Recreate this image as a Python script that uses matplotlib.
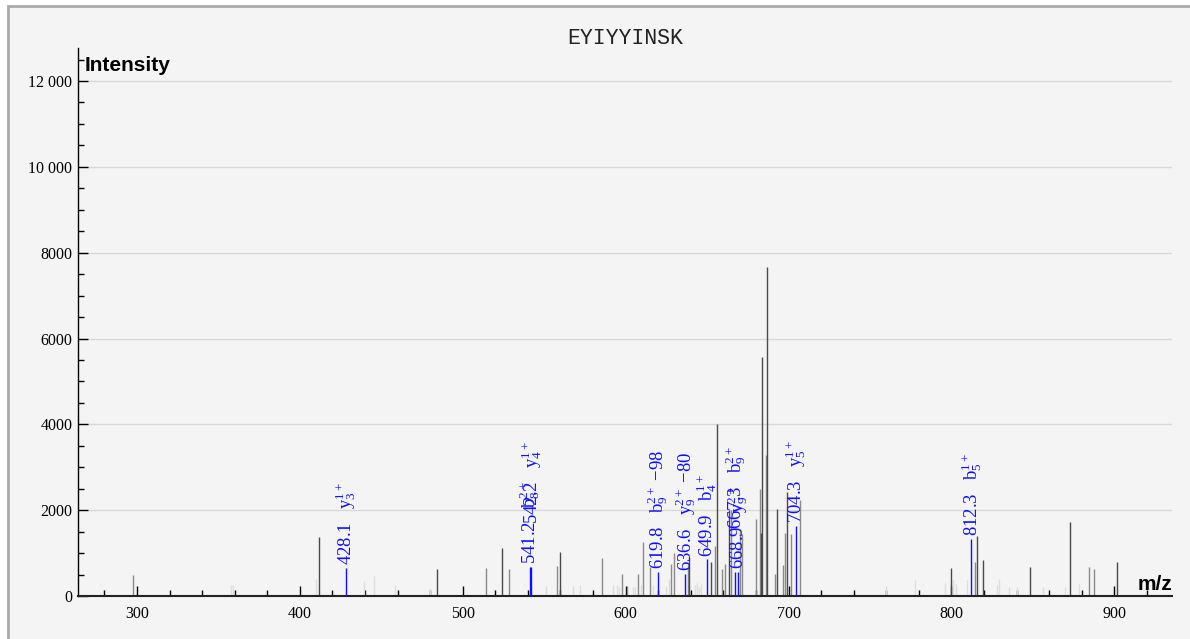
import matplotlib
matplotlib.use("Agg")
import matplotlib.pyplot as plt
from matplotlib.patches import Rectangle
from matplotlib.ticker import MultipleLocator, FuncFormatter

plt.rcParams['mathtext.fontset'] = 'custom'
plt.rcParams['mathtext.rm'] = 'Liberation Serif'
plt.rcParams['mathtext.it'] = 'Liberation Serif'

title = "EYIYYINSK"

# unmatched peaks: m/z, intensity, shade (d = dark, m = mid, l = faint)
peak_mz = [297.5, 357.5, 359.0, 410.2, 411.5, 439.5, 445.3, 458.3, 480.0, 484.2,
           514.1, 524.1, 528.1, 550.9, 557.9, 559.9, 567.6, 571.8, 585.7, 592.5,
           594.7, 596.0, 598.0, 601.0, 604.5, 606.0, 607.6, 609.6, 610.9, 615.1,
           616.8, 625.0, 626.4, 628.0, 629.9, 638.2, 639.1, 642.5, 644.0, 645.2,
           646.4, 652.4, 654.8, 656.1, 659.2, 660.9, 663.3, 664.6, 670.5, 671.3,
           679.8, 682.4, 682.8, 683.8, 685.9, 686.9, 691.8, 692.8, 696.5, 697.7,
           699.2, 701.8, 706.9, 760.0, 777.7, 796.1, 799.6, 801.0, 802.6, 809.6,
           814.5, 815.8, 819.6, 828.2, 829.4, 835.6, 840.5, 848.5, 856.4, 870.0,
           872.6, 878.5, 884.5, 887.7, 901.4]
peak_int = [500, 250, 250, 390, 1375, 360, 470, 250, 190, 620,
            645, 1130, 630, 230, 707, 1025, 230, 260, 880, 250,
            256, 200, 513, 230, 200, 220, 513, 256, 1250, 683,
            260, 230, 400, 746, 995, 746, 917, 250, 300, 220,
            280, 785, 1170, 4010, 620, 750, 2000, 2000, 1550, 1450,
            1790, 2490, 1475, 5580, 3290, 7660, 513, 2035, 720, 1460,
            2420, 1450, 2240, 240, 370, 300, 645, 366, 275, 366,
            785, 1400, 830, 250, 400, 210, 210, 684, 210, 210,
            1717, 290, 684, 622, 785]
peak_shade = ['m', 'l', 'l', 'l', 'd', 'l', 'l', 'l', 'l', 'd',
              'm', 'd', 'm', 'l', 'm', 'd', 'l', 'l', 'm', 'l',
              'l', 'l', 'm', 'm', 'l', 'l', 'm', 'l', 'm', 'm',
              'l', 'l', 'l', 'm', 'm', 'm', 'd', 'l', 'l', 'l',
              'l', 'd', 'm', 'd', 'm', 'm', 'd', 'm', 'm', 'm',
              'm', 'm', 'd', 'd', 'm', 'd', 'm', 'd', 'm', 'm',
              'd', 'm', 'm', 'l', 'l', 'l', 'd', 'l', 'l', 'l',
              'm', 'd', 'd', 'l', 'l', 'l', 'l', 'd', 'l', 'l',
              'd', 'l', 'm', 'm', 'd']

# annotated fragment peaks
ion_mz = [428.1, 541.2, 542.2, 619.8, 636.6, 649.9, 667.3, 668.9, 704.3, 812.3]
ion_int = [660, 680, 680, 567, 513, 855, 560, 560, 1640, 1328]
ion_value = ["428.1", "541.2", "542.2", "619.8", "636.6", "649.9", "667.3", "668.9", "704.3", "812.3"]
ion_name = [r"y$_3^{1+}$", r"b$_8^{2+}$", r"y$_4^{1+}$", r"b$_9^{2+}$ $-$98", r"y$_9^{2+}$ $-$80",
            r"b$_4^{1+}$", r"b$_9^{2+}$", r"y$_9^{2+}$", r"y$_5^{1+}$", r"b$_5^{1+}$"]
ion_stacked = [False, False, True, False, False, False, True, False, False, False]

shade_color = {'d': '#4a4a4a', 'm': '#8a8a8a', 'l': '#dedede'}

W, H = 1190, 639
fig = plt.figure(figsize=(W / 100, H / 100), dpi=100, facecolor='white')
fig.add_artist(Rectangle((8 / W, -0.2), 1.2, 1.2 - 6 / H, transform=fig.transFigure,
                         facecolor='#f4f4f4', edgecolor='#aaaaaa', lw=2, zorder=-10))

ax = fig.add_axes([78 / W, 43 / H, (1172 - 78) / W, (596 - 48) / H])
ax.set_facecolor('none')
ax.set_xlim(263.8, 935.4)
ax.set_ylim(0, 12770)

# peaks, faint ones first
for shade in ['l', 'm', 'd']:
    xs = [m for m, s in zip(peak_mz, peak_shade) if s == shade]
    ys = [v for v, s in zip(peak_int, peak_shade) if s == shade]
    ax.vlines(xs, 0, ys, color=shade_color[shade], lw=1.0, zorder=2)

ax.vlines(ion_mz, 0, ion_int, color='#1010ff', lw=1.0, zorder=3)
for m, v, val, name, st in zip(ion_mz, ion_int, ion_value, ion_name, ion_stacked):
    lift = 31 if st else 2
    ax.annotate(val + "   " + name, (m, v), xytext=(0, lift), textcoords='offset points',
                rotation=90, ha='center', va='bottom', color='#1010ff',
                fontsize=13.5, family='Liberation Serif', zorder=4)

# axes styling
for side in ['top', 'right']:
    ax.spines[side].set_visible(False)
ax.spines['left'].set_linewidth(1.0)
ax.spines['bottom'].set_linewidth(1.5)
ax.spines['bottom'].set_color('#222222')

ax.xaxis.set_major_locator(MultipleLocator(100))
ax.xaxis.set_minor_locator(MultipleLocator(20))
ax.yaxis.set_major_locator(MultipleLocator(2000))
ax.yaxis.set_minor_locator(MultipleLocator(500))


def fmt_int(v, pos):
    v = int(round(v))
    if v >= 10000:
        return f"{v:,}".replace(",", " ")
    return str(v)


ax.yaxis.set_major_formatter(FuncFormatter(fmt_int))
ax.tick_params(which='major', direction='in', length=7, width=1, color='black')
ax.tick_params(which='minor', direction='in', length=4.3, width=1, color='black')
ax.tick_params(axis='y', which='major', pad=4)
ax.tick_params(axis='x', which='major', pad=7)
for lab in ax.get_xticklabels() + ax.get_yticklabels():
    lab.set_family('Liberation Serif')
    lab.set_fontsize(11.5)

ax.grid(axis='y', which='major', color='#d8d8d8', lw=1.0, zorder=0)
ax.set_axisbelow(True)

fig.text(625 / W, 1 - 43.5 / H, title, ha='center', va='baseline',
         family='Liberation Mono', fontsize=15.5, color='#222222')
fig.text(85 / W, 1 - 71 / H, "Intensity", ha='left', va='baseline',
         family='Liberation Sans', weight='bold', fontsize=15)
fig.text(1172 / W, 1 - 590 / H, "m/z", ha='right', va='baseline',
         family='Liberation Sans', weight='bold', fontsize=15)

fig.savefig("out.png", dpi=100, facecolor=fig.get_facecolor())
